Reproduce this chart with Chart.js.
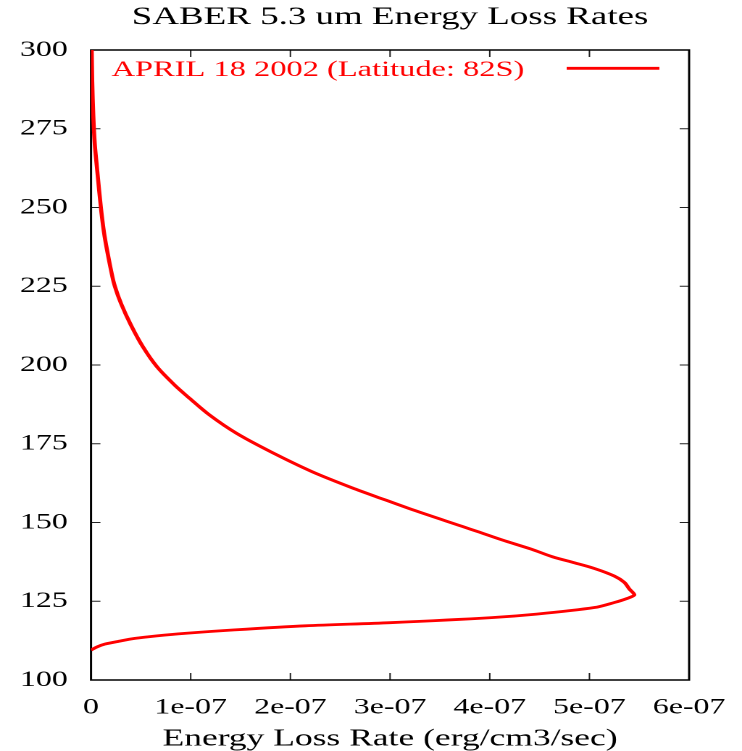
<!DOCTYPE html>
<html>
<head>
<meta charset="utf-8">
<title>SABER 5.3 um Energy Loss Rates</title>
<script src="https://cdn.jsdelivr.net/npm/chart.js@4.4.1/dist/chart.umd.min.js"></script>
<style>
    html, body { margin: 0; padding: 0; background: #fff; overflow: hidden; }
    /* the original plot is stretched sideways, so draw narrow and widen it */
    #wrap { width: 512px; height: 751px; transform: scaleX(1.4492); transform-origin: 0 0; }
</style>
</head>
<body>
<div id="wrap"><canvas id="lossChart" width="512" height="751"></canvas></div>
<script>
// Chart data (altitude in km, loss rate in erg/cm3/sec)
const altitudes = [
    109.5, 110.5, 111.4, 112.3, 113.2, 114.0, 114.8, 115.9, 117.2, 118.2,
    119.8, 120.9, 123.0, 124.6, 125.8, 127.0, 128.9, 131.0, 133.0, 135.4,
    137.2, 139.1, 141.5, 144.4, 147.1, 148.8, 154.0, 157.3, 161.0, 166.1,
    172.5, 178.3, 184.1, 189.4, 193.6, 199.5, 205.8, 212.7, 219.6, 224.9,
    229.1, 240.7, 249.7, 261.5, 270.0, 278.9, 290.0, 300.0
];
const lossRates = [
    0, 0.06e-7, 0.14e-7, 0.28e-7, 0.44e-7, 0.66e-7, 0.94e-7, 1.44e-7, 2.15e-7, 3.0e-7,
    4.02e-7, 4.47e-7, 5.05e-7, 5.25e-7, 5.37e-7, 5.45e-7, 5.40e-7, 5.35e-7, 5.25e-7, 5.05e-7,
    4.85e-7, 4.63e-7, 4.42e-7, 4.13e-7, 3.88e-7, 3.72e-7, 3.23e-7, 2.94e-7, 2.62e-7, 2.22e-7,
    1.80e-7, 1.46e-7, 1.19e-7, 0.99e-7, 0.84e-7, 0.66e-7, 0.52e-7, 0.40e-7, 0.30e-7, 0.24e-7,
    0.207e-7, 0.137e-7, 0.10e-7, 0.063e-7, 0.038e-7, 0.023e-7, 0.012e-7, 0.007e-7
];
const xTickValues = [0, 1e-7, 2e-7, 3e-7, 4e-7, 5e-7, 6e-7];
const xTickLabels = ['0', '1e-07', '2e-07', '3e-07', '4e-07', '5e-07', '6e-07'];
const yTickValues = [100, 125, 150, 175, 200, 225, 250, 275, 300];
const seriesLabel = 'APRIL 18 2002 (Latitude: 82S)';
const chartTitle = 'SABER 5.3 um Energy Loss Rates';
const xAxisTitle = 'Energy Loss Rate (erg/cm3/sec)';

const serif = "'Liberation Serif', 'Times New Roman', serif";
const lineColor = '#ff0000';

// Frame, inward ticks on all four sides, and the legend inside the plot
const frameTicks = {
    id: 'frameTicks',
    beforeDatasetsDraw(chart) {
        const { ctx, chartArea: a, scales } = chart;
        ctx.save();
        ctx.strokeStyle = '#222';
        ctx.lineWidth = 1;
        ctx.beginPath();
        xTickValues.forEach(v => {
            const px = scales.x.getPixelForValue(v);
            if (px <= a.left + 1 || px >= a.right - 1) return;
            ctx.moveTo(px, a.bottom); ctx.lineTo(px, a.bottom - 7);
            ctx.moveTo(px, a.top); ctx.lineTo(px, a.top + 7);
        });
        yTickValues.forEach(v => {
            const py = scales.y.getPixelForValue(v);
            if (py <= a.top + 1 || py >= a.bottom - 1) return;
            ctx.moveTo(a.left, py); ctx.lineTo(a.left + 6.5, py);
            ctx.moveTo(a.right, py); ctx.lineTo(a.right - 6.5, py);
        });
        ctx.stroke();
        ctx.strokeStyle = '#000';
        ctx.lineWidth = 1.5;
        ctx.strokeRect(a.left, a.top, a.right - a.left, a.bottom - a.top);
        ctx.restore();
    },
    afterDraw(chart) {
        const { ctx } = chart;
        const ds = chart.data.datasets[0];
        ctx.save();
        ctx.fillStyle = ds.borderColor;
        ctx.font = '22.4px ' + serif;
        ctx.textBaseline = 'alphabetic';
        ctx.textAlign = 'left';
        ctx.fillText(ds.label, 77, 76);
        ctx.strokeStyle = ds.borderColor;
        ctx.lineWidth = ds.borderWidth;
        ctx.beginPath();
        ctx.moveTo(391, 68.3);
        ctx.lineTo(455, 68.3);
        ctx.stroke();
        ctx.restore();
    }
};

function createLossChart() {
    const ctx = document.getElementById('lossChart');
    if (!ctx) return;

    const points = lossRates.map((r, i) => ({ x: r, y: altitudes[i] }));

    return new Chart(ctx, {
        type: 'scatter',
        data: {
            datasets: [{
                label: seriesLabel,
                data: points,
                showLine: true,
                borderColor: lineColor,
                backgroundColor: lineColor,
                borderWidth: 2.8,
                pointRadius: 0,
                tension: 0.3
            }]
        },
        options: {
            responsive: false,
            animation: false,
            devicePixelRatio: 2,
            layout: {
                padding: { left: 0, right: 36.5, top: 0, bottom: 0 }
            },
            plugins: {
                legend: { display: false },
                tooltip: { enabled: false },
                title: {
                    display: true,
                    text: chartTitle,
                    fullSize: false,
                    color: '#000',
                    font: { family: serif, size: 25.5, weight: 'normal', lineHeight: 1.2 },
                    padding: { top: 2, bottom: 17.4 }
                }
            },
            scales: {
                x: {
                    type: 'linear',
                    min: 0,
                    max: 6e-7,
                    afterBuildTicks: scale => {
                        scale.ticks = xTickValues.map(v => ({ value: v }));
                    },
                    afterFit: scale => { scale.height = 71; },
                    grid: { display: false },
                    border: { display: false },
                    ticks: {
                        color: '#000',
                        padding: 6.5,
                        maxRotation: 0,
                        font: { family: serif, size: 22, lineHeight: 1.2 },
                        callback: (value, index) => xTickLabels[index]
                    },
                    title: {
                        display: true,
                        text: xAxisTitle,
                        color: '#000',
                        font: { family: serif, size: 24.5, lineHeight: 1.2 },
                        padding: { top: 0, bottom: -2.7 }
                    }
                },
                y: {
                    type: 'linear',
                    min: 100,
                    max: 300,
                    afterBuildTicks: scale => {
                        scale.ticks = yTickValues.map(v => ({ value: v }));
                    },
                    afterFit: scale => { scale.width = 62.8; },
                    grid: { display: false },
                    border: { display: false },
                    ticks: {
                        color: '#000',
                        padding: 8.1,
                        font: { family: serif, size: 22, lineHeight: 1.2 },
                        callback: value => String(value)
                    }
                }
            }
        },
        plugins: [frameTicks]
    });
}

createLossChart();
</script>
</body>
</html>
